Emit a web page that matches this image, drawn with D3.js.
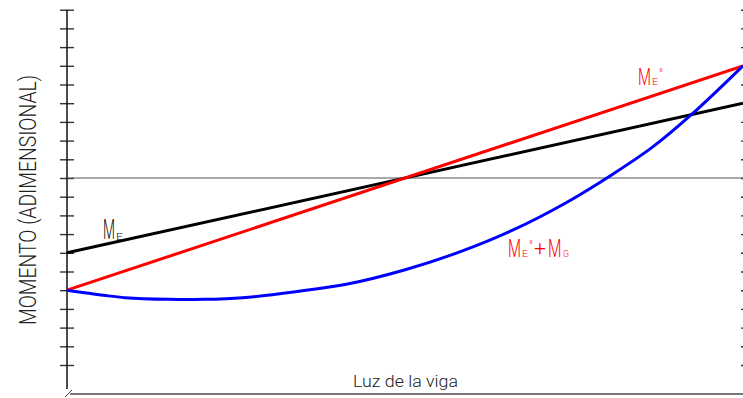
<!DOCTYPE html>
<html>
<head>
<meta charset="utf-8">
<script src="https://cdn.jsdelivr.net/npm/d3@7"></script>
<style>
  html, body { margin: 0; padding: 0; background: #fff; }
  svg { display: block; }
</style>
</head>
<body>
<svg id="chart" width="743" height="398"></svg>
<script>
// Position along the beam (0 = left support, 1 = right support)
const span = [0, 1];
// End moment line M_E
const meValues = [-4, 4];
// End moment line M_E°
const meoValues = [-6, 6];
// Combined moment M_E° + M_G
const combinedPos = [0, 0.054, 0.086, 0.151, 0.202, 0.260, 0.338, 0.415, 0.499, 0.582, 0.660, 0.737, 0.805, 0.866, 0.924, 1];
const combinedVal = [-6, -6.27, -6.40, -6.49, -6.49, -6.40, -6.08, -5.67, -4.92, -3.94, -2.78, -1.35, 0.15, 1.65, 3.40, 6];
// Tick marks on the moment axis (no numeric labels)
const yTicks = [-10, -9, -8, -7, -6, -5, -4, -3, -2, -1, 0, 1, 2, 3, 4, 5, 6, 7, 8, 9];

const svg = d3.select("#chart");
const FONT = "Roboto, 'DejaVu Sans', sans-serif";
const CAP = 0.711; // Roboto cap-height ratio

const x = d3.scaleLinear().domain([0, 1]).range([67, 743]);
const y = d3.scaleLinear().domain([-10, 9]).range([365, 9.7]);

// Left axis: ticks crossing the line on both sides
const axL = svg.append("g").attr("transform", `translate(${x(0)},0)`)
  .call(d3.axisLeft(y).tickValues(yTicks).tickSize(7).tickFormat(""));
const axL2 = svg.append("g").attr("transform", `translate(${x(0)},0)`)
  .call(d3.axisRight(y).tickValues(yTicks).tickSize(7).tickFormat(""));
[axL, axL2].forEach(g => {
  g.select(".domain").remove();
  g.selectAll(".tick line").attr("stroke", "#333").attr("stroke-width", 1.4);
});
// Axis spine running down to the beam line
svg.append("line")
  .attr("x1", x(0)).attr("x2", x(0))
  .attr("y1", y(9)).attr("y2", 389)
  .attr("stroke", "#111").attr("stroke-width", 1.5);
svg.append("line")
  .attr("x1", 65).attr("y1", 397).attr("x2", 72).attr("y2", 390)
  .attr("stroke", "#444").attr("stroke-width", 1);

// Right axis ticks (axis line sits just past the edge)
const axR = svg.append("g").attr("transform", `translate(748,0)`)
  .call(d3.axisLeft(y).tickValues(yTicks).tickSize(7).tickFormat(""));
axR.select(".domain").remove();
axR.selectAll(".tick line").attr("stroke", "#333").attr("stroke-width", 1.4);

// Beam (span) line
svg.append("line")
  .attr("x1", 70).attr("x2", 743).attr("y1", 394).attr("y2", 394)
  .attr("stroke", "#777").attr("stroke-width", 2);

// Zero moment reference
svg.append("line")
  .attr("x1", x(0)).attr("x2", x(1)).attr("y1", y(0)).attr("y2", y(0))
  .attr("stroke", "#555").attr("stroke-width", 1);

const line = d3.line().x(d => x(d[0])).y(d => y(d[1]));

svg.append("path")
  .datum(span.map((p, i) => [p, meValues[i]]))
  .attr("d", line).attr("fill", "none")
  .attr("stroke", "#000").attr("stroke-width", 3);

svg.append("path")
  .datum(span.map((p, i) => [p, meoValues[i]]))
  .attr("d", line).attr("fill", "none")
  .attr("stroke", "#ff0000").attr("stroke-width", 3);

svg.append("path")
  .datum(combinedPos.map((p, i) => [p, combinedVal[i]]))
  .attr("d", line.curve(d3.curveCatmullRom.alpha(0.5))).attr("fill", "none")
  .attr("stroke", "#0000ff").attr("stroke-width", 3);

// Narrow drafting-style glyph squeezed horizontally to a set width
function glyph(txt, left, base, cap, width, color) {
  const t = svg.append("text")
    .attr("font-family", FONT).attr("font-weight", 300)
    .attr("font-size", cap / CAP)
    .attr("fill", color)
    .text(txt);
  const natural = t.node().getComputedTextLength() || width;
  t.attr("transform", `translate(${left},${base}) scale(${width / natural},1)`);
  return t;
}

// M_E
glyph("M", 103, 239, 19, 12, "#111");
glyph("E", 116, 240, 7, 7, "#111");

// M_E°
glyph("M", 638, 85, 17, 13, "#ff0000");
glyph("E", 652, 85, 7, 6, "#ff0000");
glyph("°", 659, 78, 9, 4, "#ff0000");

// M_E° + M_G
glyph("M", 508, 257, 18, 13, "#ff0000");
glyph("E", 522, 257, 7, 6, "#ff0000");
glyph("°", 529, 250, 9, 4, "#ff0000");
glyph("+", 534, 255, 15, 12, "#ff0000");
glyph("M", 548, 257, 18, 13.5, "#ff0000");
glyph("G", 563, 257, 7, 6, "#ff0000");

// Axis titles
svg.append("text")
  .attr("transform", "translate(36,200) rotate(-90)")
  .attr("text-anchor", "middle")
  .attr("font-family", FONT).attr("font-weight", 300)
  .attr("font-size", 17 / CAP)
  .attr("textLength", 250).attr("lengthAdjust", "spacingAndGlyphs")
  .attr("fill", "#222")
  .text("MOMENTO (ADIMENSIONAL)");

svg.append("text")
  .attr("x", 353).attr("y", 386.5)
  .attr("font-family", FONT).attr("font-weight", 300)
  .attr("font-size", 11.5 / CAP)
  .attr("textLength", 105).attr("lengthAdjust", "spacingAndGlyphs")
  .attr("fill", "#222")
  .text("Luz de la viga");
</script>
</body>
</html>
